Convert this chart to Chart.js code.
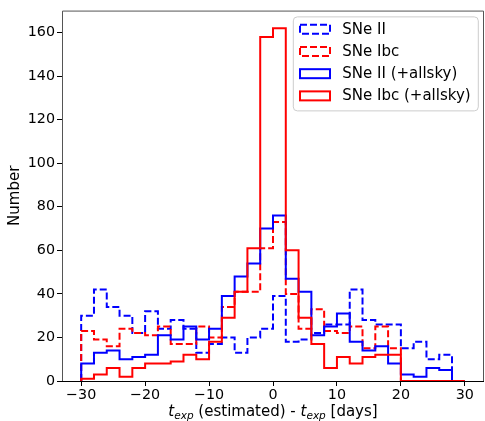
<!DOCTYPE html>
<html><head><meta charset="utf-8">
<script src="https://cdn.jsdelivr.net/npm/chart.js@4.4.0/dist/chart.umd.min.js"></script>
<style>html,body{margin:0;padding:0;background:#fff;}</style>
</head><body>
<canvas id="c" width="485" height="421"></canvas>
<script>
// Histogram bin edges (width 2 days)
const binEdges = [-30,-28,-26,-24,-22,-20,-18,-16,-14,-12,-10,-8,-6,-4,-2,0,2,4,6,8,10,12,14,16,18,20,22,24,26,28,30];
// Counts per bin
const sneII = [30,42,34,30,22,32,24,28,24,13,17,20,13,20,24,39,18,19,22,26,26,42,28,26,26,15,18,10,12,0];
const sneIbc = [23,19,16,24,22,21,25,17,17,25,20,34,41,41,61,73,40,24,33,23,22,25,15,25,15,0,0,0,0,0];
const sneIIAll = [8,13,14,10,11,12,21,19,25,19,24,39,48,54,70,76,47,41,21,25,31,18,14,16,8,3,2,6,5,0];
const sneIbcAll = [1,3,6,2,6,8,8,9,12,10,18,29,41,61,158,162,60,29,17,6,11,8,11,12,12,0,0,0,0,0];
const seriesLabels = ['SNe II','SNe Ibc','SNe II (+allsky)','SNe Ibc (+allsky)'];
// Tick values and labels
const xTicks = [-30,-20,-10,0,10,20,30];
const xTickLabels = ['\u221230','\u221220','\u221210','0','10','20','30'];
const yTicks = [0,20,40,60,80,100,120,140,160];
const yTickLabels = ['0','20','40','60','80','100','120','140','160'];

function stepPoints(edges, counts) {
  const pts = [{x: edges[0], y: 0}];
  for (let i = 0; i < counts.length; i++) {
    pts.push({x: edges[i], y: counts[i]});
    pts.push({x: edges[i + 1], y: counts[i]});
  }
  pts.push({x: edges[edges.length - 1], y: 0});
  return pts;
}

const FONT = 'DejaVu Sans';
Chart.defaults.font.family = FONT;
Chart.defaults.font.size = 14;
Chart.defaults.color = '#000';

const mk = (label, counts, color, dashed, order) => ({
  label, data: stepPoints(binEdges, counts),
  borderColor: color, backgroundColor: 'rgba(0,0,0,0)',
  borderWidth: 2, borderDash: dashed ? [7, 3] : [],
  borderCapStyle: 'butt', borderJoinStyle: 'miter',
  pointRadius: 0, pointHoverRadius: 0, tension: 0, fill: false, order
});

const framePlugin = {
  id: 'frameAndLabels',
  afterDraw(chart) {
    const ctx = chart.ctx, ca = chart.chartArea;
    ctx.save();
    // spines
    ctx.lineWidth = 1;
    ctx.strokeStyle = '#555';
    ctx.beginPath();
    ctx.moveTo(ca.left + 0.5, ca.bottom); ctx.lineTo(ca.left + 0.5, ca.top + 0.5);
    ctx.lineTo(ca.right - 0.5, ca.top + 0.5); ctx.lineTo(ca.right - 0.5, ca.bottom);
    ctx.stroke();
    ctx.strokeStyle = '#000';
    ctx.beginPath();
    ctx.moveTo(ca.left, ca.bottom + 0.5); ctx.lineTo(ca.right, ca.bottom + 0.5);
    ctx.stroke();

    // legend
    const L = {x: ca.right - 190.7, y: ca.top + 6.3, w: 185, h: 94};
    const r = 4;
    ctx.beginPath();
    ctx.moveTo(L.x + r, L.y);
    ctx.arcTo(L.x + L.w, L.y, L.x + L.w, L.y + L.h, r);
    ctx.arcTo(L.x + L.w, L.y + L.h, L.x, L.y + L.h, r);
    ctx.arcTo(L.x, L.y + L.h, L.x, L.y, r);
    ctx.arcTo(L.x, L.y, L.x + L.w, L.y, r);
    ctx.closePath();
    ctx.fillStyle = 'rgba(255,255,255,0.8)';
    ctx.fill();
    ctx.strokeStyle = '#cccccc';
    ctx.lineWidth = 1;
    ctx.stroke();
    chart.data.datasets.forEach((ds, i) => {
      const cy = L.y + 12.4 + i * 22.2;
      ctx.strokeStyle = ds.borderColor;
      ctx.lineWidth = 2;
      ctx.setLineDash(ds.borderDash);
      ctx.strokeRect(L.x + 6.7, cy - 4.5, 30, 9);
      ctx.setLineDash([]);
      ctx.fillStyle = '#000';
      ctx.font = '15px "' + FONT + '"';
      ctx.textBaseline = 'middle';
      ctx.textAlign = 'left';
      ctx.fillText(ds.label, L.x + 49, cy + 0.5);
    });

    // x-axis title with math-style subscript
    const main = 15, sub = 10.5;
    const parts = [
      {t: 't', f: 'italic ' + main + 'px "' + FONT + '"', dy: 0},
      {t: 'exp', f: 'italic ' + sub + 'px "' + FONT + '"', dy: 3.5},
      {t: ' (estimated) - ', f: main + 'px "' + FONT + '"', dy: 0},
      {t: 't', f: 'italic ' + main + 'px "' + FONT + '"', dy: 0},
      {t: 'exp', f: 'italic ' + sub + 'px "' + FONT + '"', dy: 3.5},
      {t: ' [days]', f: main + 'px "' + FONT + '"', dy: 0}
    ];
    let total = 0;
    parts.forEach(p => { ctx.font = p.f; p.w = ctx.measureText(p.t).width; total += p.w; });
    let x = (ca.left + ca.right) / 2 - total / 2;
    const base = 415.5;
    ctx.textBaseline = 'alphabetic';
    ctx.fillStyle = '#000';
    parts.forEach(p => { ctx.font = p.f; ctx.fillText(p.t, x, base + p.dy); x += p.w; });
    ctx.restore();
  }
};

new Chart(document.getElementById('c'), {
  type: 'line',
  data: {
    datasets: [
      mk(seriesLabels[0], sneII, '#0000ff', true, 3),
      mk(seriesLabels[1], sneIbc, '#ff0000', true, 2),
      mk(seriesLabels[2], sneIIAll, '#0000ff', false, 1),
      mk(seriesLabels[3], sneIbcAll, '#ff0000', false, 0)
    ]
  },
  options: {
    responsive: false, animation: false, devicePixelRatio: 1,
    layout: {padding: {top: 8, right: 1, left: 0, bottom: 0}},
    plugins: {legend: {display: false}, tooltip: {enabled: false}},
    scales: {
      x: {
        type: 'linear', min: -33, max: 33,
        afterFit: s => { s.height = 40; },
        afterBuildTicks: s => { s.ticks = xTicks.map(v => ({value: v})); },
        ticks: {autoSkip: false, maxRotation: 0, padding: 1, color: '#000',
          font: {size: 14.3}, callback: (v, i) => xTickLabels[i]},
        grid: {drawOnChartArea: false, drawTicks: true, tickLength: 5, tickColor: '#000', tickWidth: 1},
        border: {display: false}
      },
      y: {
        type: 'linear', min: 0, max: 170.1,
        afterFit: s => { s.width = 62; },
        afterBuildTicks: s => { s.ticks = yTicks.map(v => ({value: v})); },
        ticks: {autoSkip: false, padding: 2, color: '#000', font: {size: 14.3},
          callback: (v, i) => yTickLabels[i]},
        grid: {drawOnChartArea: false, drawTicks: true, tickLength: 5, tickColor: '#000', tickWidth: 1},
        border: {display: false},
        title: {display: true, text: 'Number', color: '#000', font: {size: 15}, padding: {top: 6, bottom: 0}}
      }
    }
  },
  plugins: [framePlugin]
});
</script>
</body></html>
